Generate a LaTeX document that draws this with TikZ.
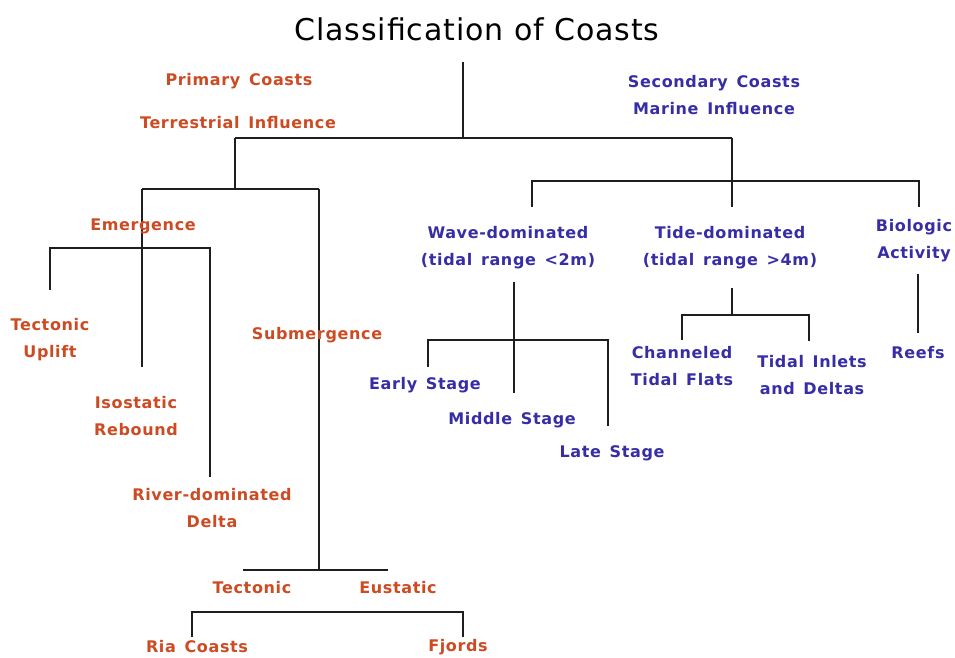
\documentclass[tikz,border=0pt]{standalone}
\usepackage{fontspec}
\setmainfont{DejaVu Sans}
\newfontfamily\labfont[LetterSpace=4,WordSpace=1.4]{DejaVu Sans}
\newfontfamily\titlefont[LetterSpace=3]{DejaVu Sans}
\definecolor{prim}{RGB}{205,75,35}
\definecolor{sec}{RGB}{55,45,165}
\definecolor{lnc}{RGB}{30,30,30}
\begin{document}
\begin{tikzpicture}[x=1pt,y=-1pt,
  lab/.style={font=\labfont\fontsize{16}{27}\selectfont\bfseries, align=center, inner sep=0pt},
  pri/.style={lab,text=prim},
  scd/.style={lab,text=sec},
  ln/.style={line width=1.6pt, draw=lnc}]
\useasboundingbox[fill=white] (0,0) rectangle (955,658);
% junction coordinates
\coordinate (t0) at (463,62);   \coordinate (t1) at (463,138);
\coordinate (l0) at (235,138);  \coordinate (r0) at (732,138);
\coordinate (l1) at (235,189);  \coordinate (la) at (142,189); \coordinate (lb) at (319,189);
\coordinate (la2) at (142,367);
\coordinate (ea) at (50,248);   \coordinate (eb) at (210,248);
\coordinate (ea2) at (50,290);  \coordinate (eb2) at (210,477);
\coordinate (lb2) at (319,570); \coordinate (sa) at (243,570); \coordinate (sb) at (388,570);
\coordinate (fa) at (192,612);  \coordinate (fb) at (463,612);
\coordinate (fa2) at (192,637); \coordinate (fb2) at (463,637);
\coordinate (r1) at (732,207);  \coordinate (rm) at (732,181);
\coordinate (ra) at (532,181);  \coordinate (rb) at (919,181);
\coordinate (ra2) at (532,207); \coordinate (rb2) at (919,207);
\coordinate (w0) at (514,282);  \coordinate (w1) at (514,393); \coordinate (wm) at (514,340);
\coordinate (wa) at (428,340);  \coordinate (wb) at (608,340);
\coordinate (wa2) at (428,367); \coordinate (wb2) at (608,426);
\coordinate (d0) at (732,288);  \coordinate (dm) at (732,315);
\coordinate (da) at (682,315);  \coordinate (db) at (809,315);
\coordinate (da2) at (682,340); \coordinate (db2) at (809,341);
\coordinate (b0) at (918,274);  \coordinate (b1) at (918,333);
% connectors
\draw[ln] (t0) -- (t1);
\draw[ln] (l0) -- (r0);
\draw[ln] (l0) -- (l1);
\draw[ln] (la) -- (lb);
\draw[ln] (la) -- (la2);
\draw[ln] (ea2) -- (ea) -- (eb) -- (eb2);
\draw[ln] (lb) -- (lb2);
\draw[ln] (sa) -- (sb);
\draw[ln] (fa2) -- (fa) -- (fb) -- (fb2);
\draw[ln] (r0) -- (r1);
\draw[ln] (ra2) -- (ra) -- (rb) -- (rb2);
\draw[ln] (w0) -- (w1);
\draw[ln] (wa2) -- (wa) -- (wb) -- (wb2);
\draw[ln] (d0) -- (dm);
\draw[ln] (da2) -- (da) -- (db) -- (db2);
\draw[ln] (b0) -- (b1);
% labels
\node[inner sep=0pt, font=\titlefont\fontsize{30}{34}\selectfont] (title) at (477,29) {Classification of Coasts};
\node[pri] (prim) at (239,81) {Primary Coasts};
\node[pri] (terr) at (238,123) {Terrestrial Influence};
\node[scd] (secd) at (714,95) {Secondary Coasts\\Marine Influence};
\node[pri] (emer) at (143,226) {Emergence};
\node[pri] (tupl) at (50,340) {Tectonic\\Uplift};
\node[pri] (isos) at (136,416) {Isostatic\\Rebound};
\node[pri] (rivd) at (212,508) {River-dominated\\Delta};
\node[pri] (subm) at (317,335) {Submergence};
\node[pri] (tect) at (252,588) {Tectonic};
\node[pri] (eust) at (398,588) {Eustatic};
\node[pri] (ria) at (197,647) {Ria Coasts};
\node[pri] (fjor) at (458,647) {Fjords};
\node[scd] (wave) at (508,248) {Wave-dominated\\(tidal range <2m)};
\node[scd] (tide) at (730,248) {Tide-dominated\\(tidal range >4m)};
\node[scd] (biol) at (914,241) {Biologic\\Activity};
\node[scd] (earl) at (425,385) {Early Stage};
\node[scd] (midd) at (512,420) {Middle Stage};
\node[scd] (late) at (612,453) {Late Stage};
\node[scd] (chan) at (682,366) {Channeled\\Tidal Flats};
\node[scd] (inle) at (812,375) {Tidal Inlets\\and Deltas};
\node[scd] (reef) at (918,353) {Reefs};
\end{tikzpicture}
\end{document}
